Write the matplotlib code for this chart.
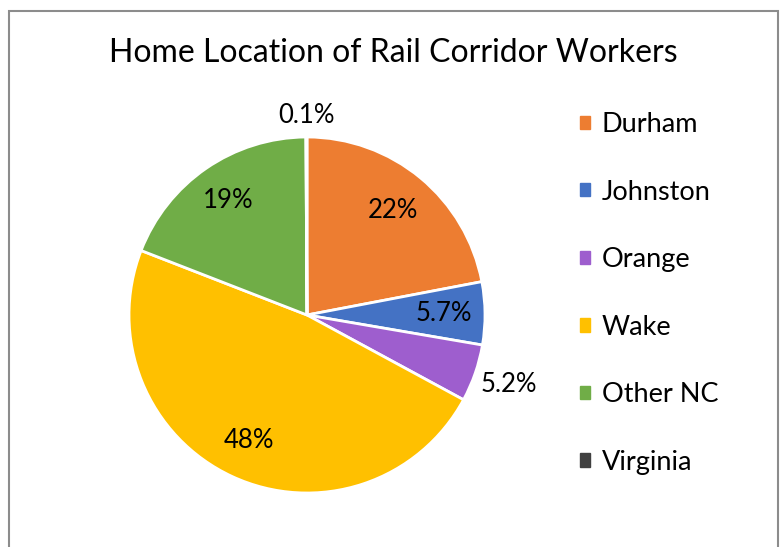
import numpy as np
import matplotlib
import matplotlib.pyplot as plt
from matplotlib.patches import Rectangle

matplotlib.rcParams['font.family'] = ['Lato', 'DejaVu Sans']

counties = ['Durham', 'Johnston', 'Orange', 'Wake', 'Other NC', 'Virginia']
shares = [22, 5.7, 5.2, 48, 19, 0.1]
labels = ['22%', '5.7%', '5.2%', '48%', '19%', '0.1%']
colors = ['#ED7D31', '#4472C4', '#9E5ECE', '#FFC000', '#70AD47', '#404040']
label_dist = [0.76, 0.77, 1.2, 0.78, 0.78, 1.12]

W, H = 783, 547
fig = plt.figure(figsize=(W / 100, H / 100), dpi=100)
ax = fig.add_axes([0, 0, 1, 1])

cx, cy, r = 307, H - 315, 178
wedges, _ = ax.pie(shares, colors=colors, startangle=90, counterclock=False,
                   center=(cx, cy), radius=r, frame=True,
                   wedgeprops=dict(edgecolor='white', linewidth=2))
ax.set_xlim(0, W)
ax.set_ylim(0, H)
ax.set_aspect('equal')
ax.axis('off')

for w, lab, d in zip(wedges, labels, label_dist):
    ang = np.deg2rad((w.theta1 + w.theta2) / 2)
    ax.text(cx + d * r * np.cos(ang), cy + d * r * np.sin(ang), lab,
            ha='center', va='center', fontsize=18.5, color='#000000')

ax.text(W / 2 + 2, H - 53, 'Home Location of Rail Corridor Workers',
        ha='center', va='center', fontsize=23)

# chart border
fig.patches.append(Rectangle((9 / W, -0.05), (778 - 9) / W, 1.05 - 11 / H,
                             transform=fig.transFigure, fill=False,
                             edgecolor='#8c8c8c', linewidth=1.5))

handles = [plt.Rectangle((0, 0), 1, 1, color=c) for c in colors]
fig.legend(handles, counties, loc='upper left', bbox_to_anchor=(580 / W, 1 - 112 / H),
           frameon=False, fontsize=19.5, handlelength=0.38, handleheight=0.38,
           handletextpad=0.42, labelspacing=1.57, borderpad=0, borderaxespad=0)

fig.savefig('out.png', dpi=100)
